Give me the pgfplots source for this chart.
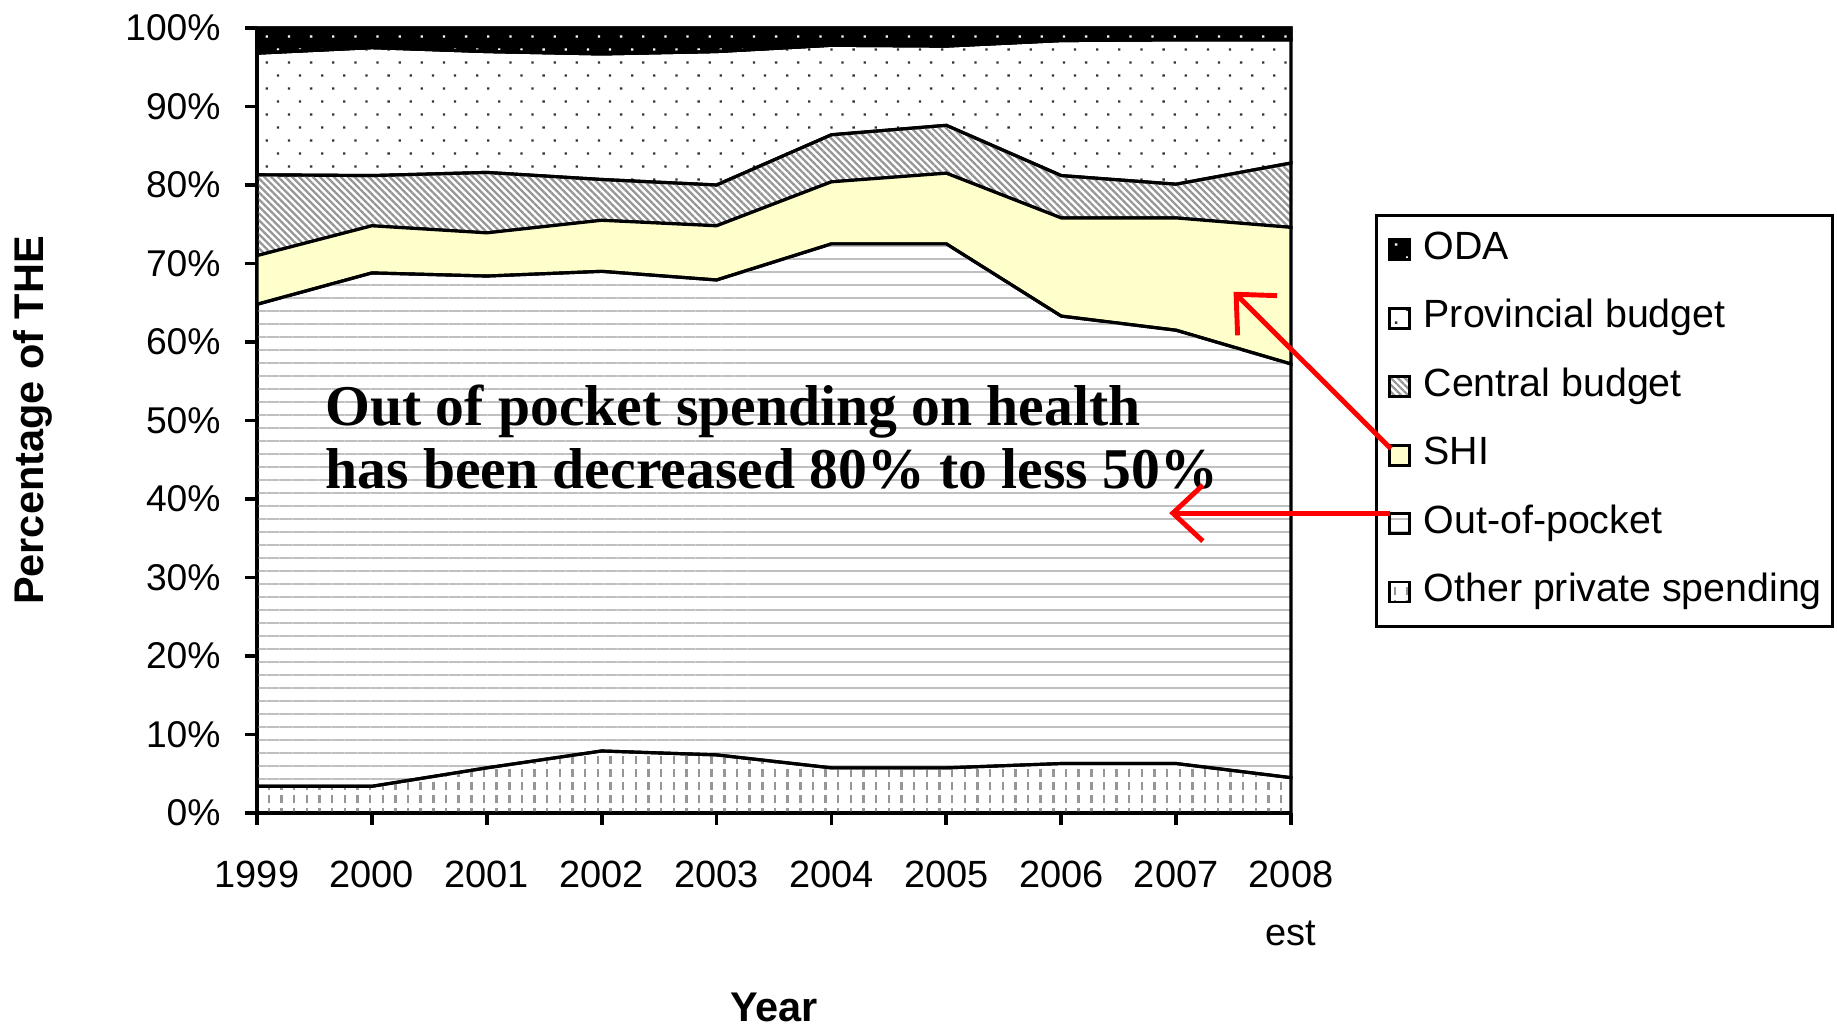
\documentclass[border=0pt]{standalone}
\usepackage{fontspec}
\setmainfont{Liberation Sans}
\newfontfamily\notefont{Liberation Serif}
\usepackage{pgfplots}
\usepackage{pgfplotstable}
\pgfplotsset{compat=1.18}
\usetikzlibrary{patterns,patterns.meta,arrows.meta}

\definecolor{shiYellow}{RGB}{255,255,204}
\definecolor{stripeGray}{RGB}{150,150,150}
\definecolor{lineGray}{RGB}{192,192,192}
\definecolor{dashGray}{RGB}{150,150,150}
\definecolor{dotGray}{RGB}{50,50,50}
\definecolor{arrowRed}{RGB}{255,0,0}

% sparse staggered dots (provincial budget, ODA)
\pgfdeclarepatternformonly{sparsedots}{\pgfqpoint{-1pt}{-1pt}}{\pgfqpoint{7.3pt}{8.4pt}}{\pgfqpoint{6.3pt}{7.4pt}}{
  \pgfpathrectangle{\pgfqpoint{0pt}{0pt}}{\pgfqpoint{0.65pt}{0.65pt}}
  \pgfpathrectangle{\pgfqpoint{3.15pt}{3.7pt}}{\pgfqpoint{0.65pt}{0.65pt}}
  \pgfusepath{fill}}
% short vertical dashes (other private spending)
\pgfdeclarepatternformonly{vdashes}{\pgfqpoint{-1pt}{-1pt}}{\pgfqpoint{4.6pt}{8.4pt}}{\pgfqpoint{3.6pt}{7.4pt}}{
  \pgfsetlinewidth{0.7pt}
  \pgfpathmoveto{\pgfqpoint{0.9pt}{0.5pt}}\pgfpathlineto{\pgfqpoint{0.9pt}{2.8pt}}
  \pgfpathmoveto{\pgfqpoint{0.9pt}{4.2pt}}\pgfpathlineto{\pgfqpoint{0.9pt}{6.5pt}}
  \pgfusepath{stroke}}

% shares of total health expenditure, 1999 ... 2008 est
\pgfplotstableread{
idx other oop   shi  central prov oda
0   3.4   61.4  6.2  10.3    15.5 3.2
1   3.4   65.4  6.0  6.4     16.3 2.5
2   5.75  62.65 5.5  7.7     15.4 3.0
3   7.9   61.1  6.5  5.2     16.0 3.3
4   7.4   60.5  6.9  5.2     17.0 3.0
5   5.75  66.75 7.9  6.0     11.4 2.2
6   5.75  66.75 9.0  6.1     10.1 2.3
7   6.3   57.0  12.5 5.4     17.2 1.6
8   6.3   55.2  14.3 4.3     18.4 1.5
9   4.5   52.7  17.4 8.2     15.7 1.5
}\thedata

\begin{document}
\begin{tikzpicture}
\useasboundingbox (-2.57cm,-2.13cm) rectangle (15.80cm,8.13cm);
\begin{axis}[
    scale only axis,
    width=10.34cm, height=7.85cm,
    xmin=0, xmax=9, ymin=0, ymax=100,
    enlargelimits=false,
    clip=false,
    stack plots=y,
    axis x line*=bottom,
    axis y line*=left,
    axis line style={line width=1.1pt},
    tick style={line width=1.1pt, black},
    tick align=outside,
    major tick length=0.12cm,
    xtick={0,...,9},
    xticklabels={1999,2000,2001,2002,2003,2004,2005,2006,2007,{2008\\est}},
    xticklabel style={align=center, font=\fontsize{10.8}{16.3}\selectfont, yshift=-0.24cm},
    ytick={0,10,...,100},
    yticklabels={0\%,10\%,20\%,30\%,40\%,50\%,60\%,70\%,80\%,90\%,100\%},
    yticklabel style={font=\fontsize{10.6}{12}\selectfont, xshift=-0.12cm},
    xlabel={Year},
    ylabel={Percentage of THE},
    xlabel style={font=\fontsize{11.8}{14}\selectfont\bfseries, at={(axis description cs:0.5,-0.248)}, anchor=center},
    ylabel style={font=\fontsize{11.8}{14}\selectfont\bfseries, at={(axis description cs:-0.2166,0.5)}, anchor=center},
    every axis plot/.append style={draw=black, line width=0.9pt},
    reverse legend,
    legend cell align=left,
    legend image code/.code={
        \pgfpathrectangle{\pgfpointorigin}{\pgfqpoint{0.37cm}{0.01cm}}
        \pgfusepath{use as bounding box}
        \draw[#1, line width=0.8pt] (0.05cm,-0.1cm) rectangle (0.25cm,0.1cm);},
    legend style={
        at={(1.081,0.763)}, anchor=north west,
        draw=black, line width=0.8pt,
        font=\fontsize{11.2}{13}\selectfont,
        inner xsep=0.08cm, inner ysep=0.06cm,
        row sep=0.115cm,
        nodes={inner ysep=0.1cm, inner xsep=0.025cm, text height=8pt, text depth=2.5pt},
    },
]
\addplot[pattern=vdashes, pattern color=dashGray] table[x=idx,y=other] {\thedata} \closedcycle;
\addlegendentry{Other private spending}
\addplot[pattern={Lines[angle=0, distance=3.7pt, line width=0.6pt]}, pattern color=lineGray] table[x=idx,y=oop] {\thedata} \closedcycle;
\addlegendentry{Out-of-pocket}
\addplot[fill=shiYellow] table[x=idx,y=shi] {\thedata} \closedcycle;
\addlegendentry{SHI}
\addplot[pattern={Lines[angle=-45, distance=1.4pt, line width=0.65pt]}, pattern color=stripeGray] table[x=idx,y=central] {\thedata} \closedcycle;
\addlegendentry{Central budget}
\addplot[pattern=sparsedots, pattern color=dotGray] table[x=idx,y=prov] {\thedata} \closedcycle;
\addlegendentry{Provincial budget}
\addplot[fill=black, postaction={pattern=sparsedots, pattern color=white}] table[x=idx,y=oda] {\thedata} \closedcycle;
\addlegendentry{ODA}

\coordinate (noteTL) at (axis cs:0.59,54.6);
\coordinate (shiFrom) at (axis cs:9.87,46.4);
\coordinate (shiTo) at (axis cs:8.50,66.4);
\coordinate (oopFrom) at (axis cs:9.86,38.2);
\coordinate (oopTo) at (axis cs:7.94,38.2);
\end{axis}

\node[anchor=north west, inner sep=0pt, align=left,
      font=\notefont\bfseries\fontsize{16.4}{17.9}\selectfont]
  at (noteTL) {Out of pocket spending on health\\has been decreased 80\% to less 50\%};
\draw[arrowRed, line width=1.4pt, -{Straight Barb[length=3mm,width=5.6mm]}] (shiFrom) -- (shiTo);
\draw[arrowRed, line width=1.4pt, -{Straight Barb[length=3mm,width=5.6mm]}] (oopFrom) -- (oopTo);
\end{tikzpicture}
\end{document}
